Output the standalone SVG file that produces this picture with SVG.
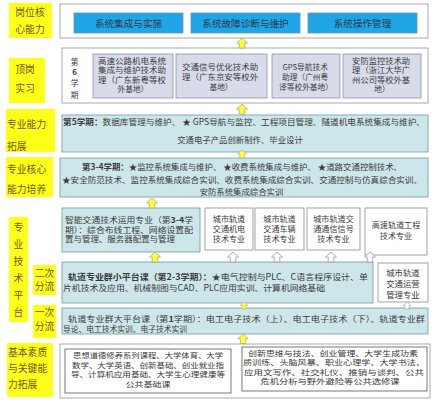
<svg xmlns="http://www.w3.org/2000/svg" xmlns:xlink="http://www.w3.org/1999/xlink" width="434" height="400" viewBox="0 0 434 400">
<defs>
<style>
text{font-family:"Noto Sans CJK SC","Liberation Sans",sans-serif;fill:#3a3a3a;}
.lbl{fill:#ffff1a;}
.lt{font-size:9.8px;fill:#6e5a10;}
.outer{fill:#fff;stroke:#a9a9a9;stroke-width:1;}
.blue{fill:#1ea6e6;stroke:#6f95b8;stroke-width:0.8;}
.lav{fill:#d8dcea;stroke:#8f95a8;stroke-width:0.8;}
.cyan{fill:#cde6ea;stroke:#7fa4ab;stroke-width:0.9;}
.wb{fill:#fff;stroke:#9a9a9a;stroke-width:0.9;}
.db{fill:#fff;stroke:#555;stroke-width:0.8;}
.bt{font-size:9.6px;fill:#2b3a4a;}
.t{font-size:8.4px;}
.t2{font-size:8px;}
.c{font-size:8.1px;}
.s{font-size:7.7px;}
.d{font-size:7.3px;}
.ya{fill:#ffff33;stroke:#a8a890;stroke-width:0.8;}
.ha{fill:#fff;stroke:#999;stroke-width:0.8;}
.b{font-weight:bold;}
</style>
<path id="arr" d="M0,0 L5.5,5 L2.8,5 L2.8,10 L-2.8,10 L-2.8,5 L-5.5,5 Z"/>
</defs>

<!-- left labels -->
<g id="lbl-core">
<rect class="lbl" x="9" y="3" width="43" height="35"/>
<text class="lt" x="30" y="15.5" text-anchor="middle">岗位核</text>
<text class="lt" x="30" y="32.5" text-anchor="middle">心能力</text>
</g>
<g id="lbl-intern">
<rect class="lbl" x="9" y="58" width="36" height="45"/>
<text class="lt" x="25" y="72.5" text-anchor="middle">顶岗</text>
<text class="lt" x="25" y="91.5" text-anchor="middle">实习</text>
</g>
<g id="lbl-ext">
<rect class="lbl" x="6" y="109" width="49" height="43"/>
<text class="lt" x="7" y="127.5">专业能力</text>
<text class="lt" x="7" y="150">拓展</text>
</g>
<g id="lbl-corecap">
<rect class="lbl" x="6" y="157" width="47" height="40"/>
<text class="lt" x="7" y="172.5">专业核心</text>
<text class="lt" x="7" y="192.5">能力培养</text>
</g>
<g id="lbl-platform">
<rect class="lbl" x="9" y="217" width="19" height="105"/>
<text class="lt" x="18.5" y="230.5" text-anchor="middle">专</text>
<text class="lt" x="18.5" y="248" text-anchor="middle">业</text>
<text class="lt" x="18.5" y="264.5" text-anchor="middle">技</text>
<text class="lt" x="18.5" y="281.5" text-anchor="middle">术</text>
<text class="lt" x="18.5" y="298.5" text-anchor="middle">平</text>
<text class="lt" x="18.5" y="315.5" text-anchor="middle">台</text>
</g>
<g id="lbl-second">
<rect class="lbl" x="33" y="265" width="23" height="30"/>
<text class="lt" x="44.5" y="276.5" text-anchor="middle" font-size="9.5">二次</text>
<text class="lt" x="44.5" y="289.5" text-anchor="middle" font-size="9.5">分流</text>
</g>
<g id="lbl-first">
<rect class="lbl" x="33" y="305" width="23" height="33"/>
<text class="lt" x="44.5" y="316" text-anchor="middle" font-size="9.5">一次</text>
<text class="lt" x="44.5" y="329.5" text-anchor="middle" font-size="9.5">分流</text>
</g>
<g id="lbl-basic">
<rect class="lbl" x="7" y="343" width="46" height="54"/>
<text class="lt" x="8" y="355.5">基本素质</text>
<text class="lt" x="8" y="371.5">与关键能</text>
<text class="lt" x="8" y="387.5">力拓展</text>
</g>

<!-- row 1 -->
<g id="row-core">
<rect class="outer" x="60" y="4" width="368" height="34"/>
<rect class="blue" x="74" y="13" width="109" height="20"/>
<text class="bt" x="128.5" y="26.5" text-anchor="middle">系统集成与实施</text>
<rect class="blue" x="191" y="13" width="109" height="20"/>
<text class="bt" x="245.5" y="26.5" text-anchor="middle">系统故障诊断与维护</text>
<rect class="blue" x="308" y="13" width="109" height="20"/>
<text class="bt" x="362.5" y="26.5" text-anchor="middle">系统操作管理</text>
</g>

<!-- row 2 -->
<g id="row-intern">
<rect class="outer" x="62" y="48" width="366" height="55"/>
<text class="s" x="74.5" y="65" text-anchor="middle">第</text>
<text class="s b" x="74.5" y="75" text-anchor="middle">6</text>
<text class="s" x="74.5" y="86" text-anchor="middle">学</text>
<text class="s" x="74.5" y="98" text-anchor="middle">期</text>
<rect class="lav" x="93" y="54" width="80" height="44"/>
<text class="s" x="133" y="63.5">
<tspan x="133" text-anchor="middle" textLength="68" lengthAdjust="spacingAndGlyphs">高速公路机电系统</tspan>
<tspan x="133" dy="9.6" text-anchor="middle" textLength="68" lengthAdjust="spacingAndGlyphs">集成与维护技术助</tspan>
<tspan x="133" dy="9.6" text-anchor="middle" textLength="68" lengthAdjust="spacingAndGlyphs">理（广东新粤等校</tspan>
<tspan x="133" dy="9.6" text-anchor="middle">外基地）</tspan>
</text>
<rect class="lav" x="176" y="54" width="91" height="44"/>
<text class="s" x="221" y="70">
<tspan x="221" text-anchor="middle" textLength="76" lengthAdjust="spacingAndGlyphs">交通信号优化技术助</tspan>
<tspan x="221" dy="10" text-anchor="middle" textLength="76" lengthAdjust="spacingAndGlyphs">理（广东京安等校外</tspan>
<tspan x="221" dy="10" text-anchor="middle">基地）</tspan>
</text>
<rect class="lav" x="272" y="54" width="68" height="44"/>
<text class="s" x="306" y="70">
<tspan x="306" text-anchor="middle">GPS导航技术</tspan>
<tspan x="306" dy="10" text-anchor="middle">助理（广州粤</tspan>
<tspan x="306" dy="10" text-anchor="middle">译等校外基地）</tspan>
</text>
<rect class="lav" x="343" y="54" width="78" height="44"/>
<text class="s" x="382" y="63.5">
<tspan x="382" text-anchor="middle" textLength="58" lengthAdjust="spacingAndGlyphs">安防监控技术助</tspan>
<tspan x="382" dy="9.6" text-anchor="middle" textLength="58" lengthAdjust="spacingAndGlyphs">理（浙江大华广</tspan>
<tspan x="382" dy="9.6" text-anchor="middle" textLength="58" lengthAdjust="spacingAndGlyphs">州公司等校外基</tspan>
<tspan x="382" dy="9.6" text-anchor="middle">地）</tspan>
</text>
</g>

<!-- row 3 -->
<g id="row-ext">
<rect class="cyan" x="62" y="115" width="366" height="37"/>
<text class="t" x="63" y="124.5" textLength="362" lengthAdjust="spacingAndGlyphs"><tspan class="b">第5学期：</tspan>数据库管理与维护、 ★ GPS导航与监控、工程项目管理、隧道机电系统集成与维护、</text>
<text class="t" x="240" y="143" text-anchor="middle">交通电子产品创新制作、毕业设计</text>
</g>

<!-- row 4 -->
<g id="row-corecap">
<rect class="cyan" x="60" y="158" width="368" height="39"/>
<text class="t" x="82" y="170" textLength="320" lengthAdjust="spacingAndGlyphs"><tspan class="b">第3-4学期：</tspan>★监控系统集成与维护、 ★收费系统集成与维护、 ★道路交通控制技术、</text>
<text class="t" x="62" y="182.5" textLength="360" lengthAdjust="spacingAndGlyphs">★安全防范技术、监控系统集成综合实训、收费系统集成综合实训、交通控制与仿真综合实训、</text>
<text class="t" x="241.5" y="195" text-anchor="middle">安防系统集成综合实训</text>
</g>

<!-- row 5 -->
<g id="its-major">
<rect class="cyan" x="62" y="208" width="138" height="44"/>
<text class="t2" x="65" y="223" textLength="128" lengthAdjust="spacingAndGlyphs">智能交通技术运用专业（第<tspan class="b">3-4</tspan>学</text>
<text class="t2" x="65" y="232.5" textLength="128" lengthAdjust="spacingAndGlyphs">期）：综合布线工程、网络设置配</text>
<text class="t2" x="65" y="242" textLength="110" lengthAdjust="spacingAndGlyphs">置与管理、服务器配置与管理</text>
</g>
<g id="rail-em">
<rect class="wb" x="205" y="208" width="48" height="42"/>
<text class="c" x="229" y="222" text-anchor="middle">城市轨道</text>
<text class="c" x="229" y="232" text-anchor="middle">交通机电</text>
<text class="c" x="229" y="242" text-anchor="middle">技术专业</text>
</g>
<g id="rail-vehicle">
<rect class="wb" x="255" y="208" width="49" height="42"/>
<text class="c" x="279.5" y="222" text-anchor="middle">城市轨道</text>
<text class="c" x="279.5" y="232" text-anchor="middle">交通车辆</text>
<text class="c" x="279.5" y="242" text-anchor="middle">技术专业</text>
</g>
<g id="rail-signal">
<rect class="wb" x="307" y="208" width="53" height="42"/>
<text class="c" x="333.5" y="222" text-anchor="middle">城市轨道交</text>
<text class="c" x="333.5" y="232" text-anchor="middle">通通信信号</text>
<text class="c" x="333.5" y="242" text-anchor="middle">技术专业</text>
</g>
<g id="hsr">
<rect class="wb" x="365" y="208" width="62" height="47"/>
<text class="c" x="396" y="228" text-anchor="middle">高速轨道工程</text>
<text class="c" x="396" y="238.5" text-anchor="middle">技术专业</text>
</g>

<!-- row 6 -->
<g id="small-platform">
<rect class="cyan" x="62" y="262" width="311" height="41"/>
<text class="t" x="68" y="280" textLength="300" lengthAdjust="spacingAndGlyphs"><tspan class="b">轨道专业群小平台课（第2-3学期）：</tspan>★电气控制与PLC、C语言程序设计、单</text>
<text class="t" x="63" y="291" textLength="262" lengthAdjust="spacingAndGlyphs">片机技术及应用、机械制图与CAD、PLC应用实训、计算机网络基础</text>
</g>
<g id="rail-ops">
<rect class="wb" x="378" y="263" width="50" height="39"/>
<text class="t" x="403" y="276" text-anchor="middle">城市轨道</text>
<text class="t" x="403" y="287" text-anchor="middle">交通运营</text>
<text class="t" x="403" y="297.5" text-anchor="middle">管理专业</text>
</g>

<!-- row 7 -->
<g id="big-platform">
<rect class="cyan" x="62" y="308" width="366" height="26"/>
<text class="t2" x="68" y="322" textLength="357" lengthAdjust="spacingAndGlyphs">轨道专业群大平台课（第<tspan class="b">1</tspan>学期）：电工电子技术（上）、电工电子技术（下）、轨道专业群</text>
<text class="t2" x="63" y="332" textLength="124" lengthAdjust="spacingAndGlyphs">导论、电工技术实训、电子技术实训</text>
</g>

<!-- row 8 -->
<g id="row-basic">
<rect class="outer" x="60" y="344" width="370" height="54"/>
</g>
<g id="public-basic">
<rect class="db" x="65" y="349" width="166" height="44"/>
<text class="d" x="148" y="358" text-anchor="middle" textLength="150" lengthAdjust="spacingAndGlyphs">思想道德修养系列课程、大学体育、大学</text>
<text class="d" x="148" y="367.5" text-anchor="middle" textLength="152" lengthAdjust="spacingAndGlyphs">数学、大学英语、创新基础、创业就业指</text>
<text class="d" x="148" y="377" text-anchor="middle" textLength="154" lengthAdjust="spacingAndGlyphs">导、计算机应用基础、大学生心理健康等</text>
<text class="d" x="148" y="386.5" text-anchor="middle" textLength="45" lengthAdjust="spacingAndGlyphs">公共基础课</text>
</g>
<g id="public-elective">
<rect class="db" x="242" y="347" width="185" height="44"/>
<text class="d" x="333" y="355.5" text-anchor="middle" textLength="170" lengthAdjust="spacingAndGlyphs">创新思维与技法、创业管理、大学生成功素</text>
<text class="d" x="334" y="365" text-anchor="middle" textLength="182" lengthAdjust="spacingAndGlyphs">质训练、头脑风暴、职业心理学、大学书法、</text>
<text class="d" x="334" y="374.5" text-anchor="middle" textLength="180" lengthAdjust="spacingAndGlyphs">应用文写作、社交礼仪、推销与谈判、公共</text>
<text class="d" x="330" y="384" text-anchor="middle" textLength="139" lengthAdjust="spacingAndGlyphs">危机分析与野外避险等公共选修课</text>
</g>

<!-- connectors -->
<g id="connectors">
<use xlink:href="#arr" class="ya" transform="translate(242,38)"/>
<use xlink:href="#arr" class="ya" transform="translate(242,104)"/>
<use xlink:href="#arr" class="ya" transform="translate(242,150) scale(0.8)"/>
<use xlink:href="#arr" class="ya" transform="translate(152,198)"/>
<use xlink:href="#arr" class="ya" transform="translate(155,252)"/>
<use xlink:href="#arr" class="ha" transform="translate(233,252)"/>
<use xlink:href="#arr" class="ha" transform="translate(277,252)"/>
<use xlink:href="#arr" class="ha" transform="translate(331,252)"/>
<use xlink:href="#arr" class="ha" transform="translate(370,252)"/>
<use xlink:href="#arr" class="ya" transform="translate(244,302) scale(0.7)"/>
<use xlink:href="#arr" class="ha" transform="translate(407,302) scale(0.7)"/>
<use xlink:href="#arr" class="ya" transform="translate(243,334) scale(0.95)"/>
</g>
</svg>
